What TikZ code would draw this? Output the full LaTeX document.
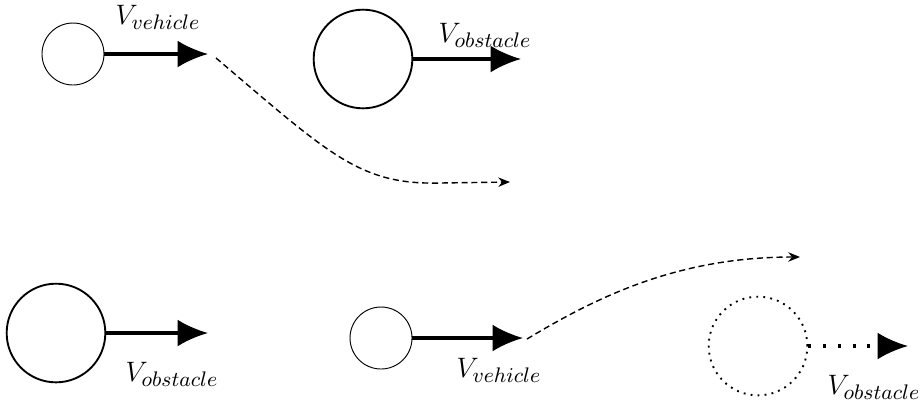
\documentclass[tikz,border=0pt]{standalone}
\usetikzlibrary{arrows.meta,positioning}
\tikzset{
  smallbody/.style={circle,draw=black,minimum size=0.93cm,inner sep=0pt},
  bigbody/.style={circle,draw=black,thick,minimum size=1.48cm,inner sep=0pt},
  ghostbody/.style={bigbody,dash pattern=on 0.8pt off 2.2pt},
  velarr/.style={-{Latex[length=13pt,width=11.5pt]},line width=1.3pt},
  ghostarr/.style={velarr,dash pattern=on 1.3pt off 5pt},
  patharr/.style={-{Stealth[length=5pt,width=4pt]},semithick,dash pattern=on 2.6pt off 1.6pt},
  vlabel/.style={inner sep=0pt,font=\fontsize{12.6}{15}\selectfont}
}
\begin{document}
\begin{tikzpicture}[x=0.015cm,y=-0.015cm]
  \useasboundingbox (0,0) rectangle (922,401);

  % top row: vehicle following a faster obstacle
  \node[smallbody] (veh1) at (73,54) {};
  \coordinate (veh1tip) at (208,54);
  \node[bigbody] (obs1) at (363,59) {};
  \coordinate (obs1tip) at (521,59);
  \node[vlabel] (lveh1) at (158,17) {$V_{vehicle}$};
  \node[vlabel] (lobs1) at (485,35) {$V_{obstacle}$};
  \draw[velarr] (veh1) -- (veh1tip);
  \draw[velarr] (obs1) -- (obs1tip);

  \coordinate (path1a) at (216,58);
  \coordinate (path1b) at (510,182);
  \draw[patharr] (path1a) .. controls (330,155) and (360,185) .. (440,183) -- (path1b);

  % bottom row: vehicle overtaking, obstacle later position dotted
  \node[bigbody] (obs2) at (56,333) {};
  \coordinate (obs2tip) at (208,333);
  \node[smallbody] (veh2) at (381,338) {};
  \coordinate (veh2tip) at (523,338);
  \node[ghostbody] (obs3) at (758,346) {};
  \coordinate (obs3tip) at (908,346);
  \node[vlabel] (lobs2) at (172,374) {$V_{obstacle}$};
  \node[vlabel] (lveh2) at (499,370) {$V_{vehicle}$};
  \node[vlabel] (lobs3) at (874,387) {$V_{obstacle}$};
  \draw[velarr] (obs2) -- (obs2tip);
  \draw[velarr] (veh2) -- (veh2tip);
  \draw[ghostarr] (obs3) -- (obs3tip);

  \coordinate (path2a) at (527,339);
  \coordinate (path2b) at (800,257);
  \draw[patharr] (path2a) .. controls (600,295) and (680,257) .. (path2b);

\end{tikzpicture}
\end{document}
